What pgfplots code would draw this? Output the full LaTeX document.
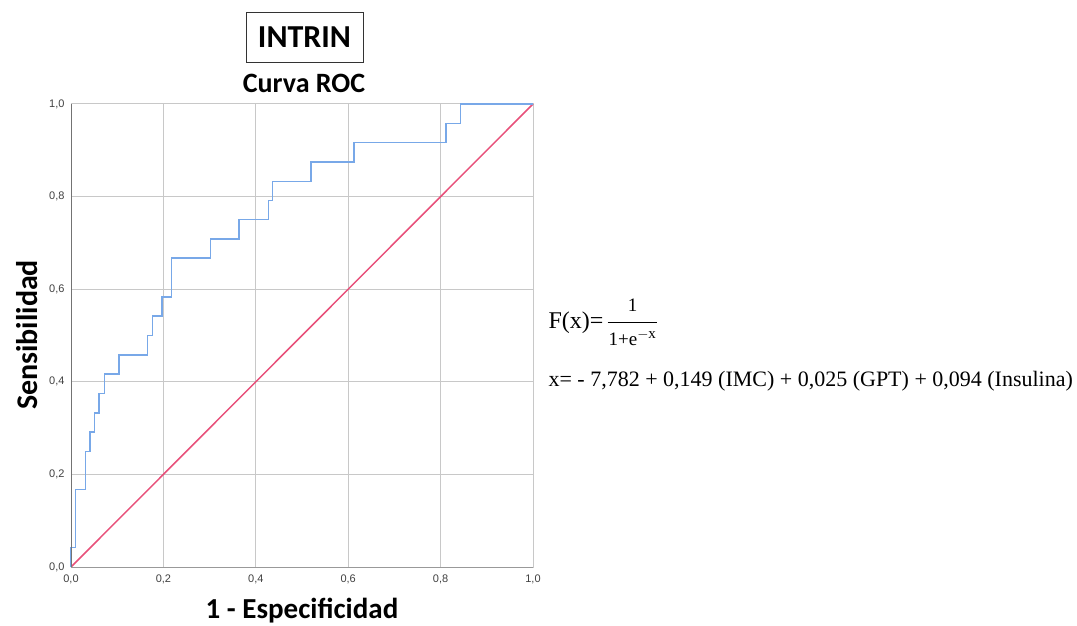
\documentclass[border=0pt]{standalone}
\usepackage{fontspec}
\usepackage{pgfplots}
\pgfplotsset{compat=1.18}
\setmainfont{Liberation Serif}
\newfontfamily\calibrifont{Carlito}
\newfontfamily\arialfont{Liberation Sans}
\definecolor{roc}{HTML}{78A8E8}
\definecolor{diag}{HTML}{E8507A}
\definecolor{gridc}{HTML}{C8C8C8}
\begin{document}
\begin{tikzpicture}
\useasboundingbox (0pt,0pt) rectangle (1077pt,625pt);
\begin{axis}[
  at={(71pt,58pt)}, anchor=south west,
  scale only axis, width=462pt, height=463pt,
  xmin=0, xmax=1, ymin=0, ymax=1,
  xtick={0,0.2,0.4,0.6,0.8,1}, ytick={0,0.2,0.4,0.6,0.8,1},
  xticklabels={{0,0},{0,2},{0,4},{0,6},{0,8},{1,0}},
  yticklabels={{0,0},{0,2},{0,4},{0,6},{0,8},{1,0}},
  major tick length=0pt,
  grid=major, grid style={gridc, line width=1pt},
  axis line style={gridc, line width=1pt},
  tick label style={font=\arialfont\fontsize{11}{12}\selectfont, text=black!75},
  xticklabel style={yshift=-4pt},
  yticklabel style={xshift=-3pt},
  clip=false,
]
\addplot[diag, line width=1.5pt] coordinates {(0,0) (1,1)};
\addplot[roc, line width=1.5pt] coordinates {
(0,0) (0,0.042) (0.010,0.042) (0.010,0.167) (0.031,0.167) (0.031,0.250)
(0.041,0.250) (0.041,0.292) (0.051,0.292) (0.051,0.333) (0.061,0.333)
(0.061,0.375) (0.072,0.375) (0.072,0.417) (0.104,0.417) (0.104,0.458)
(0.166,0.458) (0.166,0.500) (0.176,0.500) (0.176,0.542) (0.197,0.542)
(0.197,0.583) (0.218,0.583) (0.218,0.667) (0.302,0.667) (0.302,0.708)
(0.364,0.708) (0.364,0.750) (0.427,0.750) (0.427,0.792) (0.436,0.792)
(0.436,0.833) (0.519,0.833) (0.519,0.875) (0.613,0.875) (0.613,0.917)
(0.812,0.917) (0.812,0.958) (0.843,0.958) (0.843,1.0) (1,1)};
\draw[black!55, line width=1pt] (axis cs:0,0) -- (axis cs:0,1);
\draw[black!40, line width=1pt] (axis cs:0,0) -- (axis cs:1,0);
\end{axis}
\node[draw=black!80, line width=0.9pt, minimum width=117pt, minimum height=50pt, font=\calibrifont\bfseries\fontsize{32}{36}\selectfont] at (304.5pt,588pt) {INTRIN};
\node[font=\calibrifont\bfseries\fontsize{28}{30}\selectfont] at (304pt,542pt) {Curva ROC};
\node[font=\calibrifont\bfseries\fontsize{29}{31}\selectfont] at (302pt,14pt) {1 - Especificidad};
\node[font=\calibrifont\bfseries\fontsize{30}{32}\selectfont, rotate=90] at (27pt,290pt) {Sensibilidad};
\node[anchor=west, font=\fontsize{24}{28}\selectfont] at (545pt,303pt) {F(x)=\kern3pt$\displaystyle\frac{\hbox{\fontsize{19}{20}\selectfont 1}}{\hbox{\fontsize{19}{20}\selectfont \kern1pt 1+e$^{\hbox{\fontsize{15}{16}\selectfont $-$x}}$\kern1pt}}$};
\node[anchor=west, font=\fontsize{22}{26}\selectfont] at (545pt,244pt) {x= - 7,782 + 0,149 (IMC) + 0,025 (GPT) + 0,094 (Insulina)};
\end{tikzpicture}
\end{document}
